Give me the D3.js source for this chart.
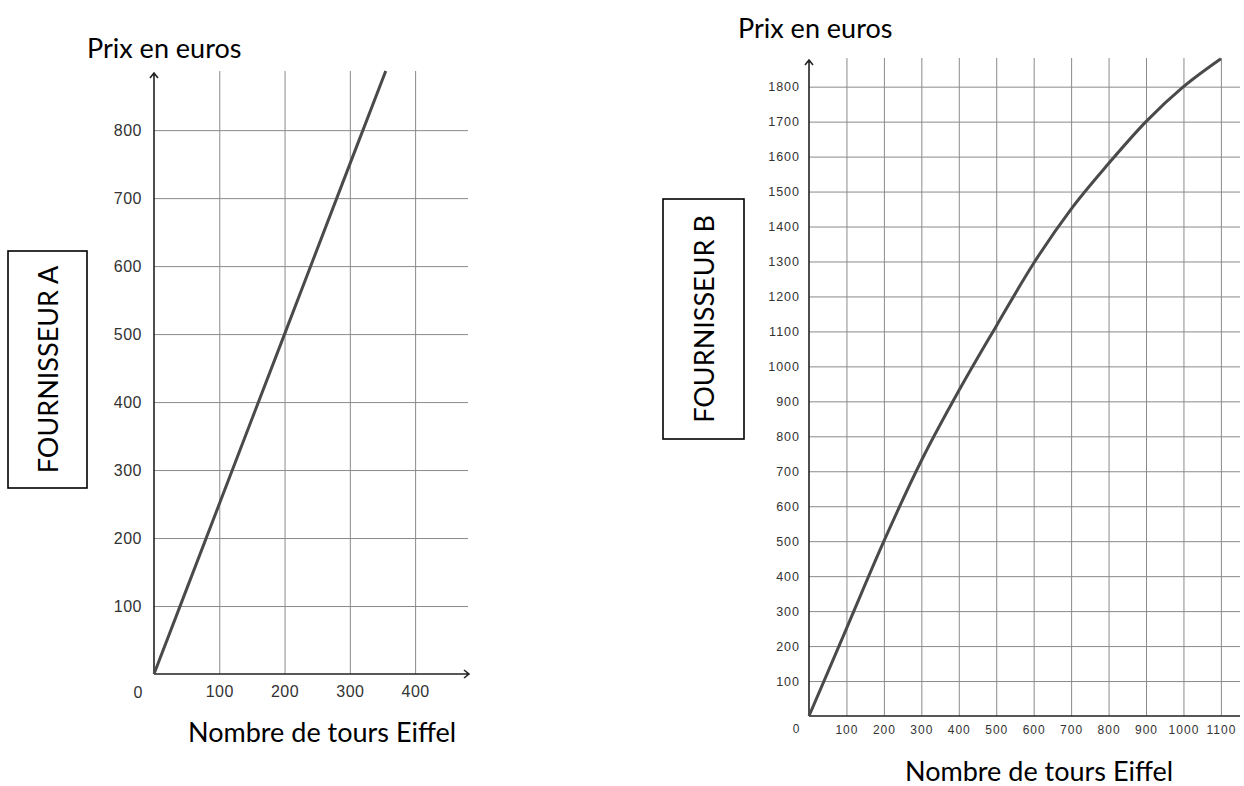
<!DOCTYPE html>
<html>
<head>
<meta charset="utf-8">
<script src="https://cdn.jsdelivr.net/npm/d3@7"></script>
<style>
  body { margin: 0; background: #fff; }
  .grid line { stroke: #8a8a8a; stroke-width: 1; }
  .grid .domain { display: none; }
  .tick text { fill: #333; font-family: "Liberation Sans", Arial, sans-serif; }
  .title { font-family: Lato, "Open Sans", sans-serif; fill: #000; }
</style>
</head>
<body>
<script>
// fournisseur A : prix en fonction du nombre de tours
const A_TOURS = [0, 100, 200, 300, 355];
const A_PRIX  = [0, 250, 500, 750, 887];
const A_XTICKS = [100, 200, 300, 400];
const A_YTICKS = [100, 200, 300, 400, 500, 600, 700, 800];

// fournisseur B
const B_TOURS = [0, 100, 200, 300, 400, 500, 600, 700, 800, 900, 1000, 1100];
const B_PRIX  = [0, 250, 500, 730, 930, 1115, 1295, 1450, 1580, 1700, 1800, 1880];
const B_XTICKS = [100, 200, 300, 400, 500, 600, 700, 800, 900, 1000, 1100];
const B_YTICKS = [100, 200, 300, 400, 500, 600, 700, 800, 900, 1000, 1100, 1200, 1300, 1400, 1500, 1600, 1700, 1800];

const LABEL_X = 'Nombre de tours Eiffel';
const LABEL_Y = 'Prix en euros';

var svg = d3.select('body').append('svg')
  .attr('width', 1244)
  .attr('height', 786);

var fmt = d3.format('d');

function drawChart(opt) {
  var x = d3.scaleLinear().domain([0, opt.xMax]).range([opt.left, opt.right]);
  var y = d3.scaleLinear().domain([0, opt.yMax]).range([opt.bottom, opt.top]);
  var g = svg.append('g');

  // vertical grid + x tick labels
  g.append('g').attr('class', 'grid')
    .attr('transform', 'translate(0,' + opt.bottom + ')')
    .call(d3.axisBottom(x).tickValues(opt.xTicks).tickFormat(fmt).tickSize(-(opt.bottom - opt.top)).tickPadding(opt.xPad))
    .selectAll('text').style('font-size', opt.tickFont + 'px').style('letter-spacing', opt.spacing + 'px');

  // horizontal grid + y tick labels
  g.append('g').attr('class', 'grid')
    .attr('transform', 'translate(' + opt.left + ',0)')
    .call(d3.axisLeft(y).tickValues(opt.yTicks).tickFormat(fmt).tickSize(-(opt.right - opt.left)).tickPadding(opt.yPad))
    .selectAll('text').style('font-size', opt.yFont + 'px').style('letter-spacing', opt.spacing + 'px');

  // origin label
  g.append('text')
    .attr('x', opt.zero[0]).attr('y', opt.zero[1])
    .attr('text-anchor', 'middle').attr('dominant-baseline', 'central')
    .style('font-family', '"Liberation Sans", Arial, sans-serif')
    .style('font-size', opt.tickFont + 'px').style('fill', '#333')
    .text('0');

  // axes with arrows
  var ax = d3.path();
  ax.moveTo(x(0), y(0)); ax.lineTo(x(0), opt.arrowTop);
  ax.moveTo(x(0) - 4, opt.arrowTop + 5); ax.lineTo(x(0), opt.arrowTop); ax.lineTo(x(0) + 4, opt.arrowTop + 5);
  ax.moveTo(x(0), y(0)); ax.lineTo(opt.arrowRight, y(0));
  if (opt.xArrow) {
    ax.moveTo(opt.arrowRight - 5, y(0) - 4); ax.lineTo(opt.arrowRight, y(0)); ax.lineTo(opt.arrowRight - 5, y(0) + 4);
  }
  g.append('path').attr('d', ax.toString())
    .attr('fill', 'none').attr('stroke', '#222').attr('stroke-width', 1.6);

  // price curve
  var pts = opt.tours.map((t, i) => [t, opt.prix[i]]);
  var line = d3.line().x(d => x(d[0])).y(d => y(d[1])).curve(d3.curveMonotoneX);
  g.append('path').datum(pts)
    .attr('d', line)
    .attr('fill', 'none').attr('stroke', '#4a4a4a').attr('stroke-width', 3);

  // titles
  g.append('text').attr('class', 'title')
    .attr('x', opt.yTitle[0]).attr('y', opt.yTitle[1])
    .attr('dominant-baseline', 'central')
    .style('font-size', '27px').text(LABEL_Y);
  g.append('text').attr('class', 'title')
    .attr('x', opt.xTitle[0]).attr('y', opt.xTitle[1])
    .attr('dominant-baseline', 'central')
    .style('font-size', '27px').text(LABEL_X);

  // boxed supplier name
  var b = opt.box;
  g.append('rect').attr('x', b[0]).attr('y', b[1]).attr('width', b[2] - b[0]).attr('height', b[3] - b[1])
    .attr('fill', 'none').attr('stroke', '#000').attr('stroke-width', 1.6);
  g.append('text').attr('class', 'title')
    .attr('transform', 'translate(' + ((b[0] + b[2]) / 2) + ',' + ((b[1] + b[3]) / 2) + ') rotate(-90)')
    .attr('text-anchor', 'middle').attr('dominant-baseline', 'central')
    .style('font-size', '27px').text(opt.name);
}

drawChart({
  tours: A_TOURS, prix: A_PRIX, xTicks: A_XTICKS, yTicks: A_YTICKS,
  xMax: 481, yMax: 887, left: 154, right: 468, top: 71, bottom: 674,
  xPad: 12, yPad: 12, tickFont: 16, yFont: 16, spacing: 0.5,
  zero: [138, 692], arrowTop: 73, arrowRight: 469, xArrow: true,
  yTitle: [87, 47], xTitle: [188, 731],
  box: [8, 251, 87, 488], name: 'FOURNISSEUR A'
});

drawChart({
  tours: B_TOURS, prix: B_PRIX, xTicks: B_XTICKS, yTicks: B_YTICKS,
  xMax: 1151, yMax: 1882, left: 809, right: 1240, top: 58, bottom: 716,
  xPad: 9, yPad: 9, tickFont: 12, yFont: 12.5, spacing: 1,
  zero: [796, 729], arrowTop: 60, arrowRight: 1240, xArrow: false,
  yTitle: [738, 27], xTitle: [905, 770],
  box: [663, 199, 744, 439], name: 'FOURNISSEUR B'
});
</script>
</body>
</html>
